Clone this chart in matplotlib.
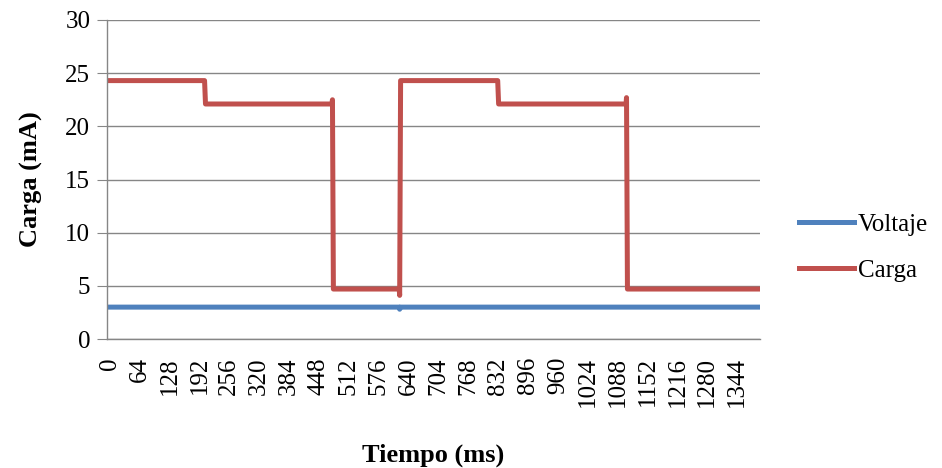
import matplotlib
matplotlib.use("Agg")
import matplotlib.pyplot as plt

# datos (tiempo en ms, valores en mA)
t_carga = [0, 203, 205, 476, 477, 479, 620, 621, 623, 831, 833, 1106, 1107, 1109, 1393]
carga = [24.3, 24.3, 22.1, 22.1, 22.5, 4.7, 4.7, 4.1, 24.3, 24.3, 22.1, 22.1, 22.7, 4.7, 4.7]

t_voltaje = [0, 620, 621, 622, 1393]
voltaje = [3.0, 3.0, 2.8, 3.0, 3.0]

etiquetas_x = [0, 64, 128, 192, 256, 320, 384, 448, 512, 576, 640, 704, 768,
               832, 896, 960, 1024, 1088, 1152, 1216, 1280, 1344]
etiquetas_y = [0, 5, 10, 15, 20, 25, 30]

plt.rcParams['font.family'] = ['Liberation Serif', 'DejaVu Serif']

fig = plt.figure(figsize=(9.42, 4.68), dpi=100)
ax = fig.add_axes([0.1136, 0.2756, 0.6932, 0.6817])

ax.plot(t_voltaje, voltaje, '-', color="#4F81BD", linewidth=3.6, label="Voltaje")
ax.plot(t_carga, carga, '-', color="#C0504D", linewidth=3.6, label="Carga",
        solid_joinstyle='round')

ax.set_xlim(-6, 1393)
ax.set_ylim(0, 30)
ax.set_yticks(etiquetas_y)
ax.set_xticks(etiquetas_x)
ax.set_xticklabels([str(v) for v in etiquetas_x], rotation=90, fontsize=18)
ax.tick_params(axis='y', labelsize=18, length=7, color="#868686", pad=5)
ax.tick_params(axis='x', length=0, pad=13)

ax.grid(True, axis='y', color="#868686", linewidth=1)
ax.set_axisbelow(True)
for lado in ['top', 'right']:
    ax.spines[lado].set_visible(False)
for lado in ['left', 'bottom']:
    ax.spines[lado].set_color("#868686")
    ax.spines[lado].set_linewidth(1)

ax.set_ylabel('Carga (mA)', fontsize=19, fontweight='bold', labelpad=16)
ax.set_xlabel('Tiempo (ms)', fontsize=19, fontweight='bold', labelpad=26)

fig.legend(loc='center left', bbox_to_anchor=(0.848, 0.471), fontsize=18,
           frameon=False, handlelength=2.2, handletextpad=0.15, labelspacing=0.95,
           borderpad=0, borderaxespad=0)

fig.savefig("out.png", dpi=100)
